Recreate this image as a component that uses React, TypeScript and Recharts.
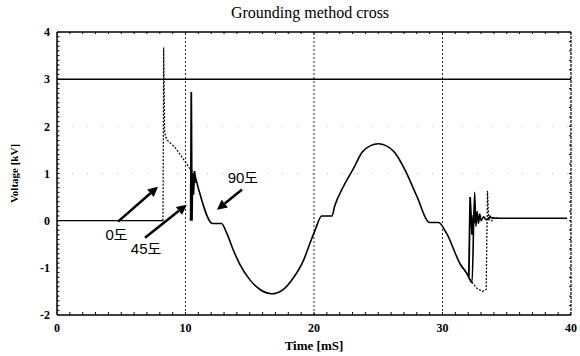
import { ComposedChart, Line, Scatter, XAxis, YAxis, ReferenceLine, ReferenceDot } from 'recharts'

type Pt = [number, number | null]

// before the fault every trace sits on 0 kV
const preFault: Pt[] = [[0, 0], [8.25, 0]]

// 0도 closing: big spike at ~8.3 ms, decays into the common wave; late re-strike near 33 ms
const trace0: Pt[] = [
  [8.25, 0], [8.3, 3.67], [8.38, 1.9], [8.45, 1.78], [8.6, 1.7], [9.2, 1.55], [9.8, 1.32],
  [10.3, 1.12], [10.7, 1.0],
  [20, null],
  [31.4, -0.93], [31.9, -1.12], [32.3, -1.31], [32.7, -1.44], [33.1, -1.5], [33.4, -1.46],
  [33.5, 0.63], [33.6, 0.0], [33.7, 0.12], [33.85, 0.0], [34.0, 0.07], [34.3, 0.05],
]

// 45도 closing
const trace45: Pt[] = [
  [10.4, 0], [10.45, 2.73], [10.5, 0], [10.55, 1.0], [10.62, 0.55], [10.7, 1.05], [10.78, 0.8],
  [20, null],
  [32.05, -1.18], [32.15, 0.5], [32.3, -0.3], [32.4, 0.12], [32.5, -0.05], [32.6, 0.05],
]

// 90도 closing, the common sine-like wave
const trace90: Pt[] = [
  [10.7, 1.0], [11.1, 0.59], [12.1, -0.06], [12.8, -0.06], [13.2, -0.26], [13.7, -0.61],
  [14.24, -0.93], [15.0, -1.25], [15.8, -1.46], [16.7, -1.55], [17.6, -1.46], [18.4, -1.21],
  [19.2, -0.83], [19.7, -0.47], [20.1, -0.19], [20.6, 0.1], [21.4, 0.1], [21.6, 0.3],
  [22.3, 0.73], [23.1, 1.12], [23.8, 1.47], [25.0, 1.63], [26.2, 1.47], [27.2, 1.01],
  [28.0, 0.52], [29.0, -0.04], [29.7, -0.04], [30.3, -0.26], [31.4, -0.93], [31.9, -1.12],
  [32.3, -1.31], [32.5, 0.6], [32.6, -0.12], [32.7, 0.2], [32.8, -0.06], [32.9, 0.14],
  [33.0, 0.0], [33.2, 0.08], [33.4, 0.02], [33.7, 0.07], [34.0, 0.05], [39.7, 0.05],
]

const xMajor = [0, 10, 20, 30, 40]
const yMajor = [-2, -1, 0, 1, 2, 3, 4]
const xMinor = Array.from({ length: 41 }, (_, i) => i)
const yMinor = Array.from({ length: 61 }, (_, i) => Math.round((-2 + i * 0.1) * 10) / 10)
const xGrid = [10, 20, 30]
const yDots = [2, 1]
const limitLine = 3

const annotations = [
  { text: '0도', tail: [4.75, -0.02], head: [7.86, 0.72], at: [4.63, -0.29] },
  { text: '45도', tail: [6.85, -0.36], head: [10.1, 0.34], at: [6.93, -0.58] },
  { text: '90도', tail: [14.4, 0.66], head: [12.45, 0.23], at: [14.47, 0.91] },
]

const rows = (pts: Pt[]) => pts.map(([t, v]) => ({ t, v }))

// frame tick positions, one list per side
const bottomTicks = xMinor.map((t) => ({ t, v: -2 }))
const topTicks = xMinor.map((t) => ({ t, v: 4 }))
const leftTicks = yMinor.map((v) => ({ t: 0, v }))
const rightTicks = yMinor.filter((_, i) => i % 2 === 0).map((v) => ({ t: 40, v }))

const serif = '"Liberation Serif", "DejaVu Serif", serif'
const sans = '"Liberation Sans", "Noto Sans CJK KR", sans-serif'
const tickStyle = { fontFamily: serif, fontSize: 12, fontWeight: 700, fill: '#000' }

function Arrow(props: any) {
  const { x1, y1, x2, y2 } = props
  const a = Math.atan2(y2 - y1, x2 - x1)
  const L = 10
  const W = 5
  const bx = x2 - L * Math.cos(a)
  const by = y2 - L * Math.sin(a)
  const px = -Math.sin(a) * W
  const py = Math.cos(a) * W
  return (
    <g>
      <line x1={x1} y1={y1} x2={bx} y2={by} stroke="#000" strokeWidth={2.5} />
      <polygon points={`${x2},${y2} ${bx + px},${by + py} ${bx - px},${by - py}`} fill="#000" />
    </g>
  )
}

// little "+" marks along the frame
const vTick = (h: number) => (p: any) => (
  <line x1={p.cx} x2={p.cx} y1={p.cy - h} y2={p.cy + h} stroke="#000" strokeWidth={1} />
)
const hTick = (w: number) => (p: any) => (
  <line x1={p.cx - w} x2={p.cx + w} y1={p.cy} y2={p.cy} stroke="#000" strokeWidth={1} />
)

export default function App() {
  return (
    <div style={{ position: 'absolute', left: 0, top: 0, width: 580, height: 356, background: '#fff' }}>
      <div
        style={{
          position: 'absolute', left: 0, top: 4, width: 620, textAlign: 'center',
          fontFamily: serif, fontSize: 16, color: '#000',
        }}
      >
        Grounding method cross
      </div>
      <ComposedChart width={580} height={356} margin={{ top: 32, right: 9, bottom: 0, left: 0 }}>
        <XAxis
          dataKey="t"
          type="number"
          domain={[0, 40]}
          ticks={xMajor}
          interval={0}
          allowDataOverflow
          tick={tickStyle}
          tickLine={false}
          tickSize={4}
          tickMargin={4}
          stroke="#000"
          strokeWidth={1.5}
          height={41}
          label={{ value: 'Time [mS]', position: 'insideBottom', offset: 6, style: { fontFamily: serif, fontSize: 13, fontWeight: 700, fill: '#000' } }}
        />
        <YAxis
          dataKey="v"
          type="number"
          domain={[-2, 4]}
          ticks={yMajor}
          interval={0}
          allowDataOverflow
          tick={tickStyle}
          tickLine={false}
          tickSize={4}
          tickMargin={3}
          stroke="#000"
          strokeWidth={1.5}
          width={57}
          label={{ value: 'Voltage [kV]', angle: -90, position: 'insideLeft', offset: 14, style: { textAnchor: 'middle', fontFamily: serif, fontSize: 11, fontWeight: 700, fill: '#000' } }}
        />
        <ReferenceLine y={4} stroke="#000" strokeWidth={1.5} />
        <ReferenceLine x={40} stroke="#000" strokeWidth={1.2} strokeDasharray="3 1" />
        {yDots.map((y) => (
          <ReferenceLine key={'h' + y} y={y} stroke="#bbb" strokeDasharray="1 14" />
        ))}
        {xGrid.map((x) => (
          <ReferenceLine key={'v' + x} x={x} stroke="#222" strokeDasharray="2 2" />
        ))}
        <ReferenceLine y={limitLine} stroke="#000" strokeWidth={1.5} />
        <Scatter data={bottomTicks} dataKey="v" shape={vTick(3)} isAnimationActive={false} />
        <Scatter data={topTicks} dataKey="v" shape={vTick(2)} isAnimationActive={false} />
        <Scatter data={leftTicks} dataKey="v" shape={hTick(2.5)} isAnimationActive={false} />
        <Scatter data={rightTicks} dataKey="v" shape={hTick(2)} isAnimationActive={false} />
        <Line data={rows(preFault)} dataKey="v" type="linear" stroke="#000" strokeWidth={1.3} dot={false} isAnimationActive={false} />
        <Line data={rows(trace0)} dataKey="v" type="linear" stroke="#000" strokeWidth={1.2} strokeDasharray="2 1.5" dot={false} isAnimationActive={false} />
        <Line data={rows(trace45)} dataKey="v" type="linear" stroke="#000" strokeWidth={1.8} dot={false} isAnimationActive={false} />
        <Line data={rows(trace90)} dataKey="v" type="monotone" stroke="#000" strokeWidth={1.6} dot={false} isAnimationActive={false} />
        {annotations.map((a) => (
          <ReferenceLine
            key={'a' + a.text}
            segment={[{ x: a.tail[0], y: a.tail[1] }, { x: a.head[0], y: a.head[1] }]}
            shape={(p: any) => <Arrow {...p} />}
          />
        ))}
        {annotations.map((a) => (
          <ReferenceDot
            key={'l' + a.text}
            x={a.at[0]}
            y={a.at[1]}
            r={0}
            shape={(p: any) => (
              <text x={p.cx} y={p.cy} textAnchor="middle" dominantBaseline="central" fontFamily={sans} fontSize={15} fill="#000">
                {a.text}
              </text>
            )}
          />
        ))}
      </ComposedChart>
    </div>
  )
}
